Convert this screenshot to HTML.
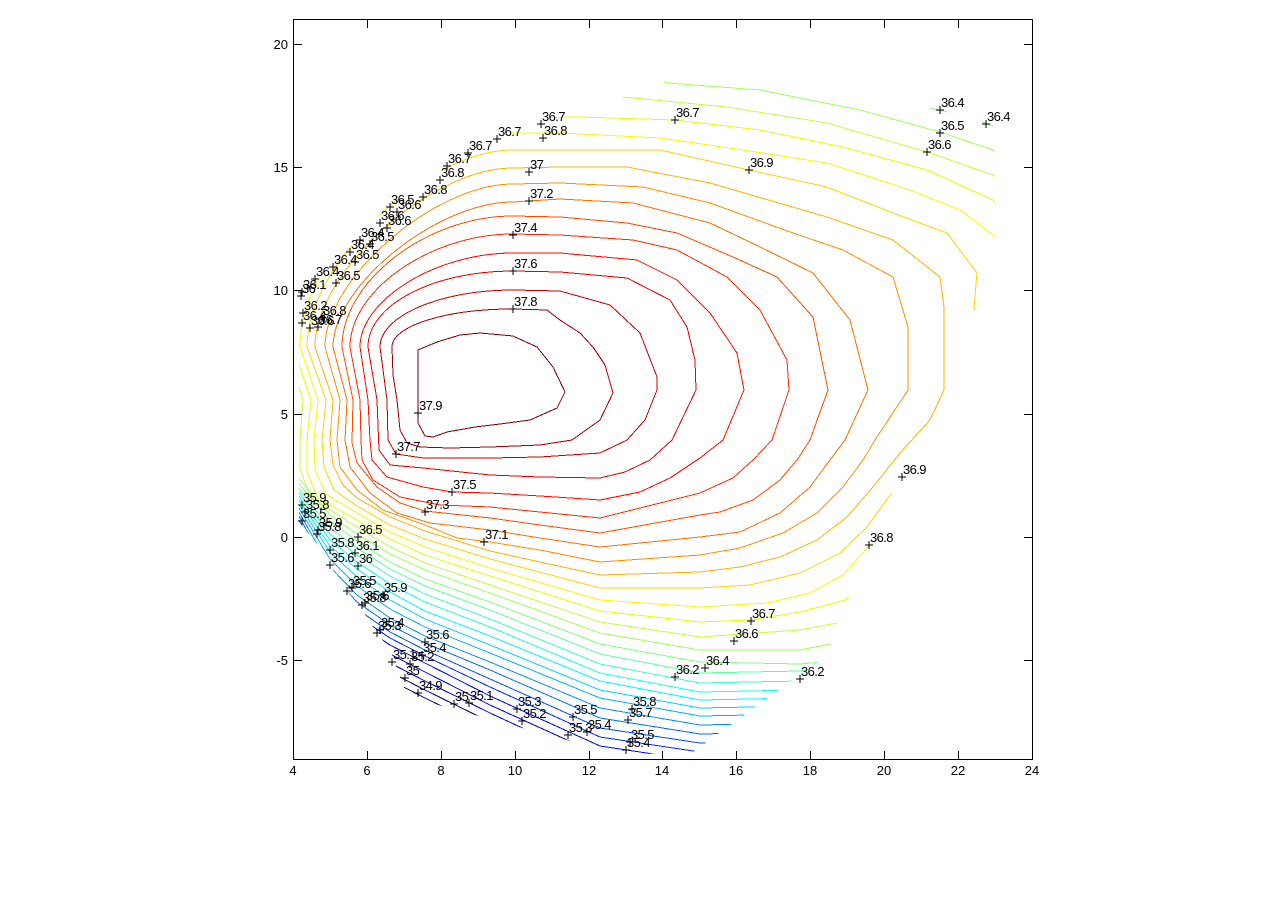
<!DOCTYPE html>
<html><head><meta charset="utf-8"><style>html,body{margin:0;padding:0;background:#fff;}svg{display:block}</style></head>
<body>
<svg width="1281" height="907" viewBox="0 0 1281 907" xmlns="http://www.w3.org/2000/svg">
<defs><clipPath id="hull"><polygon points="299,335 305,305 313,285 330,265 347,250 367,230 390,203 422,188 447,165 467,152 497,137 543,119 580,113 625,96 668,80 935,103 995,120 995,235 975,310 948,392 905,470 893,492 860,577 830,637 831,653 790,682 693,752 622,755 420,700 405,690 398,672 390,650 375,630 362,610 348,592 333,570 318,545 299,522"/></clipPath></defs>
<rect x="0" y="0" width="1281" height="907" fill="#fff"/>
<g clip-path="url(#hull)" fill="none" stroke-width="1" shape-rendering="crispEdges">
<path stroke="#800000" d="M418,350 L437,342 L460,335 L480,333 L513,336 L537,347 L553,367 L565,392 L557,408 L530,420 L500,424 L475,427 L447,432 L433,437 L425,436 L418,423 L418,390 Z"/>
<path stroke="#a10000" d="M613,393 L600,420 L572,440 L540,445 L490,447 L450,448 L420,447 L407,443 L400,430 L397,400 L393,375 L392,347 C392,326 446,309 513,309 L547,310 L560,320 L580,333 L593,347 L605,365 Z"/>
<path stroke="#c40000" d="M657,390 L645,420 L627,440 L600,453 L540,457 L490,458 L423,458 L396,454 L388,440 L387,400 L380,347 C380,316 440,290 513,290 L560,291 L610,305 L640,333 L657,377 Z"/>
<path stroke="#e60000" d="M696,390 L672,440 L650,460 L625,472 L600,478 L540,477 L490,475 L423,468 L390,465 L379,450 L377,400 L368,347 C368,305 433,271 513,271 L560,272 L627,278 L670,300 L687,327 L695,360 Z"/>
<path stroke="#ff0900" d="M744,390 L723,440 L700,458 L670,478 L640,492 L600,500 L540,496 L490,493 L452,492 L423,487 L387,477 L372,460 L370,440 L368,400 L360,347 C360,300 436,253 513,253 L560,253 L637,260 L677,280 L710,313 L737,353 Z"/>
<path stroke="#ff2b00" d="M789,390 L772,440 L753,460 L733,478 L700,493 L600,518 L540,512 L490,507 L440,505 L400,497 L373,480 L362,460 L361,440 L360,400 L350,347 C350,290 431,234 513,234 L560,235 L633,240 L677,250 L727,277 L760,310 L787,360 Z"/>
<path stroke="#ff4d00" d="M828,390 L810,440 L797,460 L780,480 L753,500 L720,512 L700,515 L600,533 L540,525 L490,518 L425,511 L400,503 L377,487 L357,463 L352,443 L353,400 L342,347 C342,281 427,216 513,216 L560,217 L627,223 L677,233 L733,257 L777,277 L813,317 Z"/>
<path stroke="#ff6f00" d="M868,390 L845,440 L830,460 L810,487 L780,513 L740,532 L700,537 L600,547 L540,538 L490,530 L430,523 L397,513 L370,493 L350,467 L345,440 L347,400 L333,347 C333,286 437,202 513,202 L560,199 L633,203 L710,223 L760,247 L813,273 L850,320 Z"/>
<path stroke="#ff9100" d="M908,390 L875,440 L863,460 L843,487 L817,513 L783,533 L740,548 L700,555 L600,562 L540,550 L490,542 L457,538 L425,525 L383,510 L357,490 L340,467 L337,440 L340,400 L325,347 C325,279 434,184 513,184 L560,183 L643,187 L710,203 L793,233 L843,250 L893,277 L908,327 Z"/>
<path stroke="#ffb300" d="M944,390 L930,420 L900,453 L873,487 L847,517 L817,540 L780,557 L740,567 L700,572 L600,575 L540,562 L490,551 L425,531 L390,517 L357,498 L343,485 L333,465 L330,440 L333,400 L315,347 C315,272 430,168 513,168 L560,167 L627,167 L710,183 L827,217 L893,240 L940,277 L944,307 Z"/>
<path stroke="#ffd500" d="M974,308 L990,330 L965,400 L925,470 L905,488 L890,495 L867,527 L840,553 L800,573 L750,585 L700,588 L600,588 L490,559 L425,539 L390,525 L357,506 L334,490 L324,467 L322,440 L326,400 L307,347 C307,264 426,150 513,150 L560,150 L660,150 L749,170 L827,187 L893,213 L947,233 L977,273 Z"/>
<path stroke="#fff700" d="M993,235 L1015,260 L1005,380 L955,480 L905,525 L869,546 L843,575 L810,593 L767,603 L700,607 L600,600 L490,568 L425,547 L390,532 L357,513 L326,494 L315,470 L314,440 L318,400 L300,347 C300,257 424,133 513,133 L560,133 L660,138 L743,150 L827,163 L910,190 L960,210 Z"/>
<path stroke="#e6ff00" d="M580,117 L675,120 L760,130 L843,147 L927,170 L993,200 L1030,250 L1030,400 L960,520 L900,570 L845,600 L800,612 L750,620 L700,622 L600,611 L490,576 L425,555 L390,539 L357,520 L318,498 L307,472 L307,440 L311,400 L293,347 C293,251 421,118 513,118 Z"/>
<path stroke="#c4ff3c" d="M623,97 L727,107 L827,123 L927,152 L993,175 L1050,220 L1050,420 L980,560 L880,615 L800,630 L700,637 L600,622 L490,585 L425,563 L390,547 L357,527 L310,497 L300,468 L300,440 L303,400 L286,347 C286,244 418,102 513,102 Z"/>
<path stroke="#a1ff5e" d="M668,83 L760,90 L860,110 L940,132 L993,150 L1060,200 L1060,440 L1000,580 L900,630 L800,650 L700,650 L600,633 L490,593 L425,570 L390,554 L357,534 L330,515 L300,480 L270,420 L250,300 L300,200 L450,90 L600,60 Z"/>
<path stroke="#80ff80" d="M668,60 L800,76 L935,94 L1000,110 L1070,180 L1070,460 L1000,600 L900,655 L800,664 L700,662 L600,644 L490,602 L425,579 L390,562 L357,541 L330,521 L300,485 L260,420 L240,300 L300,180 L450,70 L600,50 Z"/>
<path stroke="#5effa1" d="M900,656 L800,671 L700,673 L600,654 L490,610 L425,586 L390,569 L357,548 L330,528 L300,490 L260,430 L220,340"/>
<path stroke="#3cffc4" d="M900,666 L800,681 L700,683 L600,664 L490,619 L425,594 L390,576 L357,555 L330,534 L300,494 L260,434 L220,344"/>
<path stroke="#1affe6" d="M900,675 L800,690 L700,692 L600,673 L490,627 L425,602 L390,584 L357,562 L330,540 L300,498 L260,438 L220,348"/>
<path stroke="#00f7ff" d="M900,683 L800,698 L700,700 L600,681 L490,636 L425,611 L390,592 L357,569 L330,546 L300,502 L260,442 L220,352"/>
<path stroke="#00d5ff" d="M900,691 L800,706 L700,708 L600,690 L490,645 L425,619 L390,600 L357,577 L330,552 L300,506 L260,446 L220,356"/>
<path stroke="#00b3ff" d="M900,699 L800,714 L700,716 L600,698 L490,653 L425,627 L390,609 L357,586 L330,559 L300,510 L260,450 L220,360"/>
<path stroke="#0091ff" d="M900,708 L800,723 L700,725 L600,708 L490,662 L425,636 L390,618 L357,595 L330,567 L300,514 L260,454 L220,364"/>
<path stroke="#006fff" d="M900,717 L800,732 L700,734 L600,718 L490,670 L425,643 L390,625 L357,602 L330,573 L300,518 L260,458 L220,368"/>
<path stroke="#004dff" d="M900,726 L800,741 L700,743 L600,728 L490,679 L425,650 L390,632 L357,609 L330,579 L300,522 L260,462 L220,372"/>
<path stroke="#002bff" d="M900,735 L800,750 L700,752 L600,737 L490,687 L425,656 L390,638 L357,616 L330,585 L300,527 L260,467 L220,377"/>
<path stroke="#0009ff" d="M900,744 L800,759 L700,761 L600,746 L490,696 L425,663 L390,645 L357,623 L330,592 L300,533 L260,473 L220,383"/>
<path stroke="#0000e6" d="M900,753 L800,768 L700,770 L600,755 L490,705 L425,672 L390,654 L357,632 L330,600 L300,540 L260,480 L220,390"/>
<path stroke="#0000c4" d="M900,762 L800,777 L700,779 L600,764 L490,713 L425,681 L390,663 L357,641 L330,608 L300,548 L260,488 L220,398"/>
<path stroke="#0000a1" d="M900,771 L800,786 L700,788 L600,773 L490,722 L425,690 L390,672 L357,650 L330,617 L300,556 L260,496 L220,406"/>
<path stroke="#000080" d="M900,780 L800,795 L700,797 L600,782 L490,730 L425,698 L390,680 L357,659 L330,626 L300,564 L260,504 L220,414"/>
</g>
<path fill="none" stroke="#80ff80" stroke-width="1" shape-rendering="crispEdges" d="M930,108 L947,112 M982,122 L993,126"/>

<!-- plus markers -->
<path fill="none" stroke="#000" stroke-width="1" shape-rendering="crispEdges" d="
M537,124h8M541,120v8 M539,138h8M543,134v8 M493,139h8M497,135v8 M464,153h8M468,149v8 M443,166h8M447,162v8 M436,180h8M440,176v8 M419,197h8M423,193v8
M386,207h8M390,203v8 M393,212h8M397,208v8 M376,223h8M380,219v8 M383,228h8M387,224v8 M356,240h8M360,236v8 M366,244h8M370,240v8 M346,252h8M350,248v8
M351,262h8M355,258v8 M329,267h8M333,263v8 M332,283h8M336,279v8 M311,279h8M315,275v8 M298,292h8M302,288v8 M299,313h8M303,309v8 M318,318h8M322,314v8
M298,323h8M302,319v8 M306,328h8M310,324v8 M314,327h8M318,323v8 M297,296h8M301,292v8
M671,120h8M675,116v8 M745,170h8M749,166v8 M936,110h8M940,106v8 M936,133h8M940,129v8 M923,152h8M927,148v8 M982,124h8M986,120v8
M525,172h8M529,168v8 M525,201h8M529,197v8 M509,235h8M513,231v8 M509,271h8M513,267v8 M509,309h8M513,305v8
M414,413h8M418,409v8 M392,454h8M396,450v8 M448,492h8M452,488v8 M421,512h8M425,508v8 M480,542h8M484,538v8
M898,477h8M902,473v8 M865,545h8M869,541v8 M747,621h8M751,617v8 M730,641h8M734,637v8 M701,668h8M705,664v8 M671,677h8M675,673v8 M796,679h8M800,675v8
M298,505h8M302,501v8 M301,512h8M305,508v8 M298,521h8M302,517v8 M314,530h8M318,526v8 M313,534h8M317,530v8 M354,537h8M358,533v8
M326,550h8M330,546v8 M351,553h8M355,549v8 M326,565h8M330,561v8 M354,566h8M358,562v8 M343,591h8M347,587v8 M348,588h8M352,584v8
M379,595h8M383,591v8 M358,605h8M362,601v8 M361,603h8M365,599v8 M373,633h8M377,629v8 M376,630h8M380,626v8
M421,642h8M425,638v8 M418,655h8M422,651v8 M388,662h8M392,658v8 M406,664h8M410,660v8 M401,678h8M405,674v8 M414,693h8M418,689v8
M450,704h8M454,700v8 M465,703h8M469,699v8 M513,709h8M517,705v8 M518,721h8M522,717v8 M569,717h8M573,713v8 M564,735h8M568,731v8 M583,732h8M587,728v8
M628,709h8M632,705v8 M624,720h8M628,716v8 M626,742h8M630,738v8 M622,750h8M626,746v8"/>

<g font-family="'Liberation Sans', Arial, sans-serif" font-size="13" letter-spacing="-0.6" fill="#000">
<text x="542" y="121">36.7</text><text x="544" y="135">36.8</text><text x="498" y="136">36.7</text><text x="469" y="150">36.7</text><text x="448" y="163">36.7</text><text x="441" y="177">36.8</text><text x="424" y="194">36.8</text>
<text x="391" y="204">36.5</text><text x="398" y="209">36.6</text><text x="381" y="220">36.6</text><text x="388" y="225">36.6</text><text x="361" y="237">36.4</text><text x="371" y="241">36.5</text><text x="351" y="249">36.4</text>
<text x="356" y="259">36.5</text><text x="334" y="264">36.4</text><text x="337" y="280">36.5</text><text x="316" y="276">36.4</text><text x="303" y="289">36.1</text><text x="304" y="310">36.2</text><text x="323" y="315">36.8</text>
<text x="303" y="320">36.4</text><text x="311" y="325">36.6</text><text x="319" y="324">36.7</text><text x="302" y="293">36</text>
<text x="676" y="117">36.7</text><text x="750" y="167">36.9</text><text x="941" y="107">36.4</text><text x="941" y="130">36.5</text><text x="928" y="149">36.6</text><text x="987" y="121">36.4</text>
<text x="530" y="169">37</text><text x="530" y="198">37.2</text><text x="514" y="232">37.4</text><text x="514" y="268">37.6</text><text x="514" y="306">37.8</text>
<text x="419" y="410">37.9</text><text x="397" y="451">37.7</text><text x="453" y="489">37.5</text><text x="426" y="509">37.3</text><text x="485" y="539">37.1</text>
<text x="903" y="474">36.9</text><text x="870" y="542">36.8</text><text x="752" y="618">36.7</text><text x="735" y="638">36.6</text><text x="706" y="665">36.4</text><text x="676" y="674">36.2</text><text x="801" y="676">36.2</text>
<text x="303" y="502">35.9</text><text x="306" y="509">35.8</text><text x="303" y="518">35.5</text><text x="319" y="527">35.9</text><text x="318" y="531">35.8</text><text x="359" y="534">36.5</text>
<text x="331" y="547">35.8</text><text x="356" y="550">36.1</text><text x="331" y="562">35.6</text><text x="359" y="563">36</text><text x="348" y="588">35.6</text><text x="353" y="585">35.5</text>
<text x="384" y="592">35.9</text><text x="363" y="602">35.8</text><text x="366" y="600">35.6</text><text x="378" y="630">35.3</text><text x="381" y="627">35.4</text>
<text x="426" y="639">35.6</text><text x="423" y="652">35.4</text><text x="393" y="659">35.1</text><text x="411" y="661">35.2</text><text x="406" y="675">35</text><text x="419" y="690">34.9</text>
<text x="455" y="701">35</text><text x="470" y="700">35.1</text><text x="518" y="706">35.3</text><text x="523" y="718">35.2</text><text x="574" y="714">35.5</text><text x="569" y="732">35.3</text><text x="588" y="729">35.4</text>
<text x="633" y="706">35.8</text><text x="629" y="717">35.7</text><text x="631" y="739">35.5</text><text x="627" y="747">35.4</text>
</g>

<!-- axes -->
<g fill="none" stroke="#000" stroke-width="1" shape-rendering="crispEdges">
<rect x="293.5" y="19.5" width="739" height="740"/>
<path d="M367.5,759v-8M441.5,759v-8M515.5,759v-8M589.5,759v-8M662.5,759v-8M736.5,759v-8M810.5,759v-8M884.5,759v-8M958.5,759v-8
M367.5,20v8M441.5,20v8M515.5,20v8M589.5,20v8M662.5,20v8M736.5,20v8M810.5,20v8M884.5,20v8M958.5,20v8
M294,44.5h8M294,167.5h8M294,290.5h8M294,414.5h8M294,537.5h8M294,660.5h8
M1032,44.5h-8M1032,167.5h-8M1032,290.5h-8M1032,414.5h-8M1032,537.5h-8M1032,660.5h-8"/>
</g>
<g font-family="'Liberation Sans', Arial, sans-serif" font-size="13" fill="#000" text-anchor="middle">
<text x="293" y="775">4</text><text x="367" y="775">6</text><text x="441" y="775">8</text><text x="515" y="775">10</text><text x="589" y="775">12</text><text x="662" y="775">14</text><text x="736" y="775">16</text><text x="810" y="775">18</text><text x="884" y="775">20</text><text x="958" y="775">22</text><text x="1032" y="775">24</text>
</g>
<g font-family="'Liberation Sans', Arial, sans-serif" font-size="13" fill="#000" text-anchor="end">
<text x="288" y="49">20</text><text x="288" y="172">15</text><text x="288" y="295">10</text><text x="288" y="419">5</text><text x="288" y="542">0</text><text x="288" y="665">-5</text>
</g>
</svg>
</body></html>
